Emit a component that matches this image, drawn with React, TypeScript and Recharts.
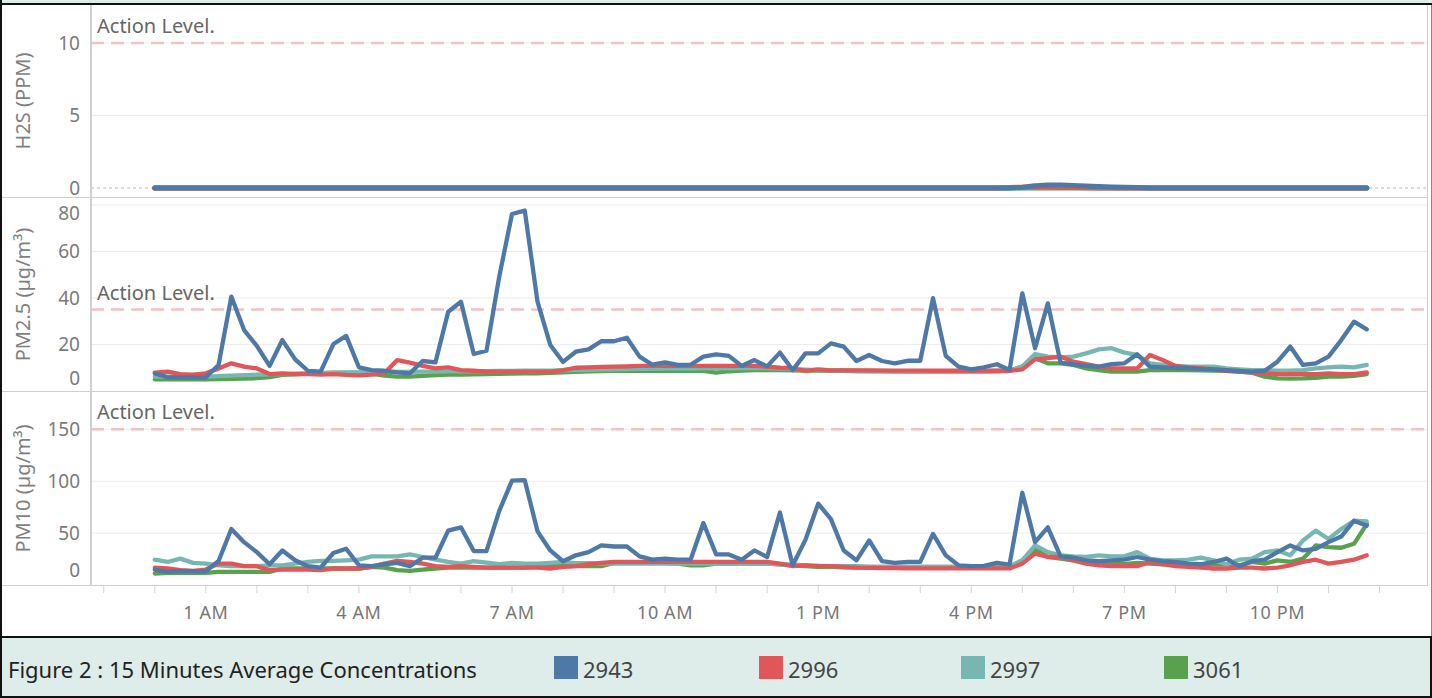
import { CartesianGrid, Line, LineChart, ReferenceLine, XAxis, YAxis } from 'recharts';

// 15-minute slots from 00:00 to 23:45
const SLOTS = Array.from({ length: 96 }, (_, k) => k);
const HOUR_TICKS = [-4, 0, 4, 8, 12, 16, 20, 24, 28, 32, 36, 40, 44, 48, 52, 56, 60, 64, 68, 72, 76, 80, 84, 88, 92, 96];
const TIME_LABEL_SLOTS = [4, 16, 28, 40, 52, 64, 76, 88];
const TIME_LABELS = ['1 AM', '4 AM', '7 AM', '10 AM', '1 PM', '4 PM', '7 PM', '10 PM'];

const STATIONS = ['2943', '2996', '2997', '3061'];
const STATION_COLORS = ['#4e79a7', '#e15759', '#76b7b2', '#59a14f'];
const DRAW_ORDER = ['3061', '2997', '2996', '2943'];

// H2S (PPM)
const H2S_2943 = [
  0, 0, 0, 0, 0, 0, 0, 0, 0, 0, 0, 0,
  0, 0, 0, 0, 0, 0, 0, 0, 0, 0, 0, 0,
  0, 0, 0, 0, 0, 0, 0, 0, 0, 0, 0, 0,
  0, 0, 0, 0, 0, 0, 0, 0, 0, 0, 0, 0,
  0, 0, 0, 0, 0, 0, 0, 0, 0, 0, 0, 0,
  0, 0, 0, 0, 0, 0, 0, 0, 0.05, 0.15, 0.2, 0.2,
  0.18, 0.14, 0.1, 0.07, 0.05, 0.03, 0, 0, 0, 0, 0, 0,
  0, 0, 0, 0, 0, 0, 0, 0, 0, 0, 0, 0,
];
const H2S_2996 = [
  0, 0, 0, 0, 0, 0, 0, 0, 0, 0, 0, 0,
  0, 0, 0, 0, 0, 0, 0, 0, 0, 0, 0, 0,
  0, 0, 0, 0, 0, 0, 0, 0, 0, 0, 0, 0,
  0, 0, 0, 0, 0, 0, 0, 0, 0, 0, 0, 0,
  0, 0, 0, 0, 0, 0, 0, 0, 0, 0, 0, 0,
  0, 0, 0, 0, 0, 0, 0, 0.03, 0.06, 0.06, 0.05, 0.04,
  0.03, 0.02, 0, 0, 0, 0, 0, 0, 0, 0, 0, 0,
  0, 0, 0, 0, 0, 0, 0, 0, 0, 0, 0, 0,
];
const H2S_2997 = [
  0, 0, 0, 0, 0, 0, 0, 0, 0, 0, 0, 0,
  0, 0, 0, 0, 0, 0, 0, 0, 0, 0, 0, 0,
  0, 0, 0, 0, 0, 0, 0, 0, 0, 0, 0, 0,
  0, 0, 0, 0, 0, 0, 0, 0, 0, 0, 0, 0,
  0, 0, 0, 0, 0, 0, 0, 0, 0, 0, 0, 0,
  0, 0, 0, 0, 0, 0, 0, 0, 0.02, 0.05, 0.06, 0.06,
  0.05, 0.04, 0.03, 0.02, 0, 0, 0, 0, 0, 0, 0, 0,
  0, 0, 0, 0, 0, 0, 0, 0, 0, 0, 0, 0,
];
const H2S_3061 = [
  0, 0, 0, 0, 0, 0, 0, 0, 0, 0, 0, 0,
  0, 0, 0, 0, 0, 0, 0, 0, 0, 0, 0, 0,
  0, 0, 0, 0, 0, 0, 0, 0, 0, 0, 0, 0,
  0, 0, 0, 0, 0, 0, 0, 0, 0, 0, 0, 0,
  0, 0, 0, 0, 0, 0, 0, 0, 0, 0, 0, 0,
  0, 0, 0, 0, 0, 0, 0, 0, 0, 0, 0, 0,
  0, 0, 0, 0, 0, 0, 0, 0, 0, 0, 0, 0,
  0, 0, 0, 0, 0, 0, 0, 0, 0, 0, 0, 0,
];

// PM2.5 (µg/m³)
const PM25_2943 = [
  7.6, 5.9, 5.9, 5.9, 5.9, 11.2, 40.6, 26.2, 19.4, 10.8, 21.9, 13.6,
  8.7, 8.3, 20.2, 23.7, 10.2, 9.0, 8.7, 8.0, 7.6, 12.9, 12.3, 34.1,
  38.4, 15.9, 17.3, 49.2, 76.1, 77.6, 38.4, 19.8, 12.5, 16.9, 17.9, 21.4,
  21.4, 22.9, 14.8, 11.3, 12.3, 11.2, 11.3, 14.8, 15.8, 15.1, 10.8, 13.3,
  10.6, 16.5, 9.0, 16.2, 16.2, 20.5, 19.1, 12.9, 15.5, 12.9, 11.9, 13.0,
  13.0, 39.9, 15.1, 10.5, 9.3, 10.2, 11.5, 9.0, 42.0, 18.4, 37.7, 12.2,
  11.5, 10.8, 10.5, 11.6, 11.9, 15.8, 10.5, 10.2, 10.0, 9.7, 9.5, 9.3,
  9.0, 8.6, 8.3, 8.7, 12.6, 19.1, 11.2, 11.9, 14.8, 21.9, 29.8, 26.5,
];
const PM25_2996 = [
  7.9, 8.3, 7.3, 7.0, 7.6, 9.7, 11.9, 10.5, 9.7, 7.3, 7.6, 7.3,
  7.3, 7.0, 7.3, 6.9, 6.7, 7.0, 7.6, 13.3, 12.2, 10.8, 9.7, 10.2,
  9.0, 8.7, 8.3, 8.3, 8.3, 8.3, 8.3, 8.3, 9.0, 10.0, 10.2, 10.4,
  10.5, 10.6, 10.8, 10.8, 10.8, 10.8, 10.8, 10.8, 10.8, 10.8, 10.8, 10.8,
  10.5, 10.0, 9.7, 8.7, 9.3, 8.9, 8.9, 8.9, 8.9, 8.8, 8.8, 8.8,
  8.8, 8.7, 8.7, 8.7, 8.7, 8.7, 8.7, 8.7, 9.3, 13.6, 14.1, 14.8,
  12.6, 11.6, 10.5, 9.7, 9.7, 9.7, 15.5, 13.3, 10.8, 10.2, 9.7, 9.3,
  8.7, 8.3, 7.9, 7.6, 7.3, 7.3, 7.3, 7.3, 7.6, 7.3, 7.3, 8.0,
];
const PM25_2997 = [
  6.2, 6.2, 6.2, 6.2, 6.2, 6.4, 6.6, 6.8, 7.0, 7.2, 7.3, 7.5,
  7.6, 7.7, 7.8, 7.9, 8.0, 8.1, 8.2, 8.2, 8.2, 8.3, 8.3, 8.4,
  8.4, 8.5, 8.5, 8.6, 8.6, 8.7, 8.7, 8.8, 8.9, 9.0, 9.1, 9.2,
  9.3, 9.4, 9.5, 9.5, 9.6, 9.6, 9.6, 9.7, 9.7, 9.7, 9.8, 9.8,
  9.8, 9.6, 9.4, 9.2, 9.0, 8.8, 8.7, 8.6, 8.5, 8.4, 8.4, 8.3,
  8.3, 8.3, 8.3, 8.3, 8.3, 8.3, 8.4, 8.6, 10.5, 15.9, 14.8, 14.5,
  14.8, 16.2, 17.9, 18.4, 16.5, 15.5, 11.9, 11.2, 10.8, 10.5, 10.5, 10.5,
  9.7, 9.3, 9.0, 9.0, 8.7, 8.7, 9.0, 9.7, 10.2, 10.5, 10.2, 11.2,
];
const PM25_3061 = [
  5.0, 5.0, 5.0, 5.0, 5.0, 5.1, 5.2, 5.3, 5.5, 6.0, 6.9, 7.2,
  7.5, 7.7, 7.9, 7.9, 7.9, 7.5, 6.6, 6.2, 6.2, 6.5, 6.8, 7.0,
  7.0, 7.2, 7.3, 7.4, 7.5, 7.6, 7.6, 7.8, 8.0, 8.2, 8.4, 8.6,
  8.7, 8.7, 8.7, 8.7, 8.7, 8.7, 8.7, 8.7, 7.9, 8.5, 8.8, 9.0,
  9.0, 9.0, 8.9, 8.8, 8.8, 8.7, 8.7, 8.6, 8.6, 8.6, 8.5, 8.5,
  8.5, 8.5, 8.5, 8.5, 8.5, 8.5, 8.6, 8.8, 10.5, 14.1, 11.9, 11.9,
  11.2, 9.7, 9.0, 8.3, 8.3, 8.3, 9.0, 9.0, 9.0, 9.0, 8.9, 8.8,
  8.7, 8.3, 7.9, 6.2, 5.4, 5.3, 5.4, 5.7, 6.2, 6.2, 6.5, 7.3,
];

// PM10 (µg/m³)
const PM10_2943 = [
  14.9, 12.7, 13.7, 13.3, 13.3, 23.2, 54.0, 41.3, 31.7, 20.0, 33.3, 23.8,
  18.1, 16.8, 30.8, 34.9, 19.0, 18.1, 20.0, 21.3, 18.1, 26.3, 26.3, 52.4,
  55.6, 32.7, 32.7, 71.4, 100.6, 101.0, 51.7, 33.3, 22.9, 28.6, 31.7, 38.1,
  37.1, 37.1, 27.6, 24.4, 25.4, 24.4, 24.4, 59.7, 29.5, 29.5, 24.4, 33.3,
  27.0, 69.8, 19.0, 43.5, 78.4, 63.5, 33.3, 23.8, 42.9, 22.9, 21.3, 22.2,
  22.2, 49.2, 28.6, 19.0, 18.1, 18.4, 21.3, 19.7, 88.9, 41.3, 55.6, 27.6,
  26.3, 23.8, 22.9, 23.8, 24.4, 27.0, 24.4, 22.9, 22.2, 20.6, 20.0, 22.2,
  25.4, 18.1, 22.9, 24.4, 31.7, 38.1, 33.3, 34.9, 41.3, 46.7, 61.9, 57.1,
];
const PM10_2996 = [
  16.8, 15.9, 14.3, 13.7, 14.9, 20.6, 20.6, 18.1, 18.1, 14.3, 14.9, 14.9,
  14.9, 14.3, 15.9, 15.9, 15.9, 17.5, 20.6, 23.2, 22.2, 20.6, 18.1, 17.5,
  18.1, 17.5, 16.8, 16.8, 16.8, 16.8, 16.8, 15.9, 17.5, 18.1, 20.0, 21.3,
  22.2, 22.2, 22.2, 22.2, 22.2, 22.2, 22.2, 22.2, 22.2, 22.2, 22.2, 22.2,
  22.2, 20.6, 18.1, 19.0, 18.1, 18.1, 17.5, 16.8, 16.5, 16.3, 16.2, 16.0,
  16.0, 16.0, 16.0, 16.0, 16.0, 16.0, 16.0, 16.0, 20.6, 30.2, 27.0, 27.0,
  23.8, 20.6, 19.0, 18.1, 18.1, 18.1, 22.2, 20.0, 18.1, 17.5, 16.8, 15.9,
  15.9, 16.8, 16.8, 15.9, 16.8, 19.0, 22.2, 24.4, 20.6, 22.2, 24.4, 28.6,
];
const PM10_2997 = [
  24.4, 22.2, 25.4, 21.3, 20.6, 19.0, 18.1, 18.1, 18.1, 19.0, 19.0, 20.6,
  22.2, 23.2, 23.2, 23.8, 24.4, 27.6, 27.6, 27.6, 29.5, 27.0, 24.4, 22.2,
  20.6, 22.9, 21.6, 20.0, 21.3, 20.6, 20.6, 21.3, 22.2, 21.0, 21.0, 20.6,
  20.6, 20.6, 20.6, 20.6, 20.6, 20.6, 20.6, 20.6, 20.6, 20.6, 20.6, 20.6,
  20.6, 20.0, 19.5, 19.0, 18.5, 18.1, 18.1, 18.1, 17.8, 17.8, 17.8, 17.8,
  17.8, 17.8, 17.8, 17.8, 17.8, 17.8, 17.8, 18.1, 23.8, 38.1, 31.7, 28.6,
  27.6, 27.0, 28.6, 27.6, 27.6, 31.7, 25.4, 23.8, 23.8, 24.4, 26.3, 23.8,
  20.0, 24.4, 25.4, 31.7, 33.3, 28.6, 42.9, 52.4, 44.4, 54.0, 61.9, 61.3,
];
const PM10_3061 = [
  11.1, 11.7, 11.7, 11.7, 11.7, 12.7, 12.7, 12.7, 12.7, 12.7, 15.9, 15.9,
  15.9, 15.9, 15.9, 15.9, 15.9, 17.5, 16.8, 14.3, 13.7, 14.9, 15.9, 16.8,
  16.8, 16.8, 16.8, 16.8, 16.8, 16.8, 18.1, 18.1, 18.1, 18.1, 18.1, 18.1,
  21.3, 21.3, 21.3, 21.3, 21.3, 20.6, 19.0, 19.0, 20.6, 20.6, 20.6, 20.6,
  20.6, 20.0, 19.0, 18.1, 17.5, 17.5, 17.0, 16.8, 16.8, 16.8, 16.8, 16.8,
  16.8, 16.8, 16.8, 16.8, 16.8, 16.8, 16.8, 17.5, 22.2, 34.9, 27.0, 25.4,
  23.8, 22.2, 21.3, 20.0, 20.0, 21.3, 20.6, 20.0, 20.0, 20.0, 20.0, 20.0,
  20.0, 19.0, 22.2, 20.6, 23.8, 22.2, 25.4, 38.1, 36.5, 35.9, 39.7, 58.7,
];

const ACTION_LEVELS = { h2s: 10, pm25: 35, pm10: 150 };

const FONT = '"Noto Sans", sans-serif';
const CHART_W = 1428;
const AXIS_W = 91;
const X_DOMAIN: [number, number] = [-5, 99.8];

function buildRows(values: number[][]) {
  return SLOTS.map((slot, k) => {
    const row: Record<string, number> = { slot };
    STATIONS.forEach((s, j) => {
      row['s' + s] = values[j][k];
    });
    return row;
  });
}

const H2S_ROWS = buildRows([H2S_2943, H2S_2996, H2S_2997, H2S_3061]);
const PM25_ROWS = buildRows([PM25_2943, PM25_2996, PM25_2997, PM25_3061]);
const PM10_ROWS = buildRows([PM10_2943, PM10_2996, PM10_2997, PM10_3061]);

function YTick(props: any) {
  const { y, payload, nudge } = props;
  const dy = (nudge && nudge[payload.value]) || 0;
  return (
    <text x={80} y={y + dy} dy="0.36em" textAnchor="end" fill="#7a7a7a" fontSize={19} fontFamily={FONT}>
      {payload.value}
    </text>
  );
}

function XTick(props: any) {
  const { x, y, payload } = props;
  const idx = TIME_LABEL_SLOTS.indexOf(payload.value);
  if (idx < 0) return <g />;
  return (
    <text x={x} y={y + 17} dominantBaseline="central" textAnchor="middle" fill="#777" fontSize={18} letterSpacing={0.6} fontFamily={FONT}>
      {TIME_LABELS[idx]}
    </text>
  );
}

function axisTitle(value: string) {
  return (props: any) => {
    const vb = props.viewBox;
    const cy = vb.y + vb.height / 2;
    return (
      <text x={22} y={cy} transform={`rotate(-90 22 ${cy})`} dominantBaseline="central" textAnchor="middle" fill="#7f7f7f" fontSize={20} fontFamily={FONT}>
        {value}
      </text>
    );
  };
}

function actionLabel(props: any) {
  const vb = props.viewBox;
  return (
    <text x={vb.x + 6} y={vb.y - 10} fill="#666" fontSize={20} fontFamily={FONT}>
      Action Level.
    </text>
  );
}

interface PanelProps {
  rows: Record<string, number>[];
  top: number;
  height: number;
  domain: [number, number];
  ticks: number[];
  grid: number[];
  nudge?: Record<number, number>;
  title: string;
  action: number;
  width: number;
  zeroLine?: boolean;
  showX?: boolean;
}

function Panel({ rows, top, height, domain, ticks, grid, nudge, title, action, width, zeroLine, showX }: PanelProps) {
  return (
    <div style={{ position: 'absolute', left: 0, top }}>
      <LineChart width={CHART_W} height={height + (showX ? 51 : 0)} data={rows} margin={{ top: 0, right: 0, bottom: 0, left: 0 }}>
        <CartesianGrid vertical={false} stroke="#ececec" horizontalValues={grid} />
        <XAxis
          dataKey="slot"
          type="number"
          domain={X_DOMAIN}
          ticks={HOUR_TICKS}
          hide={!showX}
          height={51}
          axisLine={false}
          tickSize={8}
          tickLine={{ stroke: '#d4d4d4' }}
          tick={<XTick />}
          interval={0}
        />
        <YAxis
          type="number"
          domain={domain}
          ticks={ticks}
          interval={0}
          width={AXIS_W}
          axisLine={false}
          tickLine={false}
          tick={(p: any) => <YTick {...p} nudge={nudge} />}
          label={axisTitle(title)}
        />
        {zeroLine && <ReferenceLine y={0} stroke="#b8b8b8" strokeDasharray="3 3" strokeWidth={1} />}
        <ReferenceLine y={action} stroke="#f2c2c2" strokeWidth={2.5} strokeDasharray="13 7" label={actionLabel} />
        {DRAW_ORDER.map((s) => (
          <Line
            key={s}
            type="linear"
            dataKey={'s' + s}
            stroke={STATION_COLORS[STATIONS.indexOf(s)]}
            strokeWidth={width}
            strokeLinejoin="round"
            strokeLinecap="round"
            dot={false}
            activeDot={false}
            isAnimationActive={false}
          />
        ))}
      </LineChart>
    </div>
  );
}

const line = (style: React.CSSProperties) => <div style={{ position: 'absolute', ...style }} />;

export default function App() {
  const legendX = [554, 759, 961, 1164];
  return (
    <div style={{ position: 'absolute', left: 0, top: 0, width: 1432, height: 698, background: '#fff', overflow: 'hidden', fontFamily: FONT }}>
      <style>{'.recharts-surface { overflow: visible; }'}</style>
      <Panel rows={H2S_ROWS} top={5} height={192} domain={[-0.62, 12.62]} ticks={[0, 5, 10]} grid={[5, 10]} title="H2S (PPM)" action={ACTION_LEVELS.h2s} width={5} zeroLine />
      <Panel rows={PM25_ROWS} top={198} height={193} domain={[0, 83]} ticks={[0, 20, 40, 60, 80]} grid={[20, 40, 60, 80]} nudge={{ 0: -13, 80: 8 }} title="PM2.5 (µg/m³)" action={ACTION_LEVELS.pm25} width={4.3} />
      <Panel rows={PM10_ROWS} top={392} height={193} domain={[0, 186]} ticks={[0, 50, 100, 150]} grid={[50, 100, 150]} nudge={{ 0: -15 }} title="PM10 (µg/m³)" action={ACTION_LEVELS.pm10} width={4.3} showX />

      {/* frame */}
      {line({ left: 0, top: 0, width: 1432, height: 3, background: '#dfedea' })}
      {line({ left: 0, top: 3, width: 1432, height: 2, background: '#111' })}
      {line({ left: 0, top: 197, width: 1428, height: 1, background: '#cfcfcf' })}
      {line({ left: 0, top: 391, width: 1428, height: 1, background: '#cfcfcf' })}
      {line({ left: 0, top: 585, width: 1428, height: 1, background: '#cfcfcf' })}
      {line({ left: 90, top: 5, width: 2, height: 581, background: '#d0d0d0' })}
      {line({ left: 1427, top: 5, width: 1, height: 581, background: '#cfcfcf' })}
      {line({ left: 1431, top: 5, width: 1, height: 632, background: '#888' })}
      {line({ left: 0, top: 0, width: 2, height: 698, background: '#111' })}

      {/* footer with legend */}
      <div style={{ position: 'absolute', left: 0, top: 636, width: 1432, height: 62, boxSizing: 'border-box', border: '2px solid #111', background: '#deecea' }}>
        <span style={{ position: 'absolute', left: 6, top: 18, lineHeight: '26px', fontSize: 22, color: '#222', whiteSpace: 'nowrap' }}>
          Figure 2 : 15 Minutes Average Concentrations
        </span>
        {STATIONS.map((s, j) => (
          <div key={s}>
            <div style={{ position: 'absolute', left: legendX[j] - 2, top: 18, width: 24, height: 23, background: STATION_COLORS[j] }} />
            <span style={{ position: 'absolute', left: legendX[j] + 27, top: 18, lineHeight: '26px', fontSize: 22, color: '#444' }}>{s}</span>
          </div>
        ))}
      </div>
    </div>
  );
}
